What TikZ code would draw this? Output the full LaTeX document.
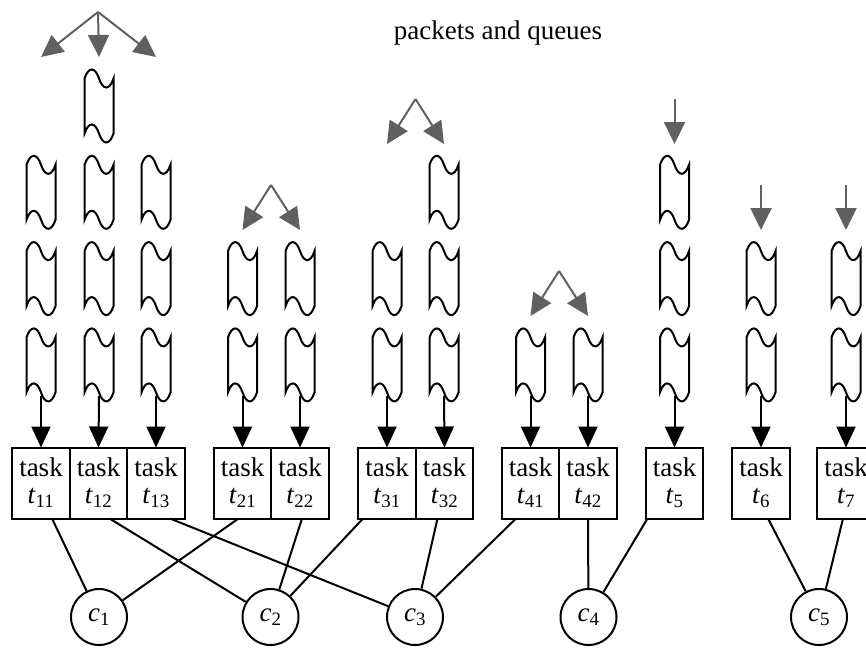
\documentclass[tikz,border=0pt]{standalone}
\usepackage{fontspec}
\setmainfont{Liberation Serif}
\usetikzlibrary{arrows.meta, shapes.symbols, positioning}
\definecolor{forkgray}{RGB}{96,96,96}
\newcommand{\tsk}[1]{task\\[-1pt]\textit{t}\textsubscript{#1}}
\newcommand{\cpu}[1]{\textit{c}\textsubscript{#1}}

\begin{document}
\begin{tikzpicture}[x=1pt, y=-1pt, line width=2pt,
    box/.style={draw, minimum width=57.5pt, minimum height=71pt, inner sep=0pt, outer sep=0pt,
      align=center, font=\fontsize{27}{28}\selectfont},
    pkt/.style={draw, tape, tape bend top=out and in, tape bend bottom=out and in,
      tape bend height=18pt, minimum width=29pt, minimum height=73pt, inner sep=0pt},
    core/.style={draw, circle, minimum size=56pt, inner sep=0pt, font=\fontsize{27}{28}\selectfont},
    feed/.style={-{Triangle[length=21pt,width=19pt]}, line width=2pt},
    fork/.style={-{Triangle[length=22pt,width=21pt]}, draw=forkgray, line width=2pt}]

  \useasboundingbox (0,0) rectangle (866,648);
  \clip (0,0) rectangle (866,648);

  \node[anchor=base, font=\fontsize{27}{30}\selectfont] (title) at (498,39) {packets and queues};

  \node[box] (t11) at (41,483) {\tsk{11}};
  \node[box, right=0pt of t11] (t12) {\tsk{12}};
  \node[box, right=0pt of t12] (t13) {\tsk{13}};
  \node[box] (t21) at (242.5,483) {\tsk{21}};
  \node[box, right=0pt of t21] (t22) {\tsk{22}};
  \node[box] (t31) at (387,483) {\tsk{31}};
  \node[box, right=0pt of t31] (t32) {\tsk{32}};
  \node[box] (t41) at (530.5,483) {\tsk{41}};
  \node[box, right=0pt of t41] (t42) {\tsk{42}};
  \node[box] (t5) at (674.5,483) {\tsk{5}};
  \node[box] (t6) at (761,483) {\tsk{6}};
  \node[box] (t7) at (846,483) {\tsk{7}};

  \foreach \c/\x/\r in {11/41/2, 12/99/1, 13/156/2, 21/242.5/3, 22/300/3, 31/387/3,
                        32/444/2, 41/530.5/4, 42/588/4, 5/674.5/2, 6/761/3, 7/846/3}
    \foreach \k in {\r,...,4}
      \node[pkt] (p\c-\k) at (\x,{106+86.3*(\k-1)}) {};

  \foreach \c in {11,12,13,21,22,31,32,41,42,5,6,7}
    \draw[feed] (p\c-4.south) -- (t\c.north);

  \coordinate (srcA) at (98,12);
  \coordinate (srcB) at (271,185);
  \coordinate (srcC) at (415.5,99);
  \coordinate (srcD) at (559,271);
  \coordinate (src5) at (674.5,99);
  \coordinate (src6) at (761,185);
  \coordinate (src7) at (846,185);
  \foreach \c/\x/\y/\s in {11/41/57/A, 12/99/57/A, 13/156/57/A, 21/242.5/230/B, 22/300/230/B,
                           31/387/144/C, 32/444/144/C, 41/530.5/316/D, 42/588/316/D,
                           5/674.5/144/5, 6/761/230/6, 7/846/230/7} {
    \coordinate (in\c) at (\x,\y);
    \draw[fork] (src\s) -- (in\c);
  }

  \node[core] (c1) at (99,617) {\cpu{1}};
  \node[core] (c2) at (270.5,617) {\cpu{2}};
  \node[core] (c3) at (415,617) {\cpu{3}};
  \node[core] (c4) at (588.5,617) {\cpu{4}};
  \node[core] (c5) at (819,617) {\cpu{5}};

  \foreach \t/\d/\c in {11/11/1, 12/11/2, 13/14/3, 21/-4/1, 22/2/2, 31/-24/2, 32/-7/3,
                        41/-14.5/3, 42/0/4, 5/-27/4, 6/7/5, 7/-3/5}
    \draw ([xshift=\d pt]t\t.south) -- (c\c);

\end{tikzpicture}
\end{document}
